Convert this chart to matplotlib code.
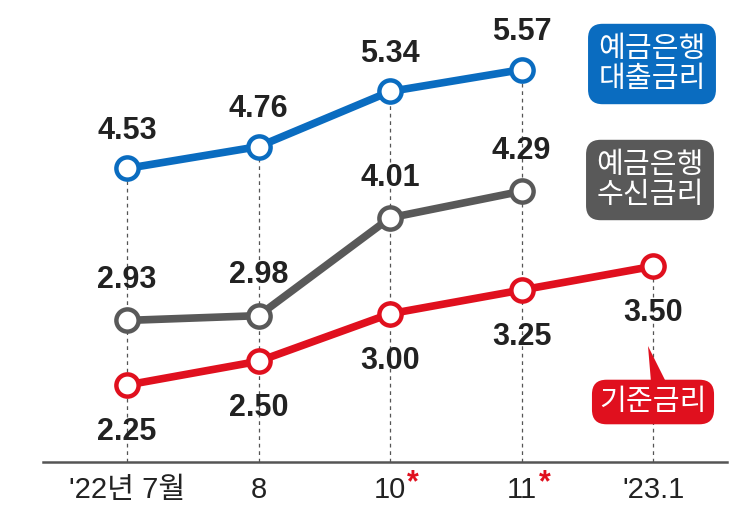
import matplotlib
matplotlib.use('Agg')
import matplotlib.pyplot as plt
from matplotlib.patches import Polygon

plt.rcParams['font.family'] = ['Liberation Sans', 'Noto Sans CJK KR', 'DejaVu Sans']

# ---------- data ----------
months = ["'22년 7월", "8", "10", "11", "'23.1"]
loan_rate = [4.53, 4.76, 5.34, 5.57]        # 예금은행 대출금리
deposit_rate = [2.93, 2.98, 4.01, 4.29]     # 예금은행 수신금리
base_rate = [2.25, 2.50, 3.00, 3.25, 3.50]  # 기준금리
star_months = ["10", "11"]

blue = '#0a6cc0'
gray = '#595959'
red = '#e0101e'

fig = plt.figure(figsize=(7.43, 5.24), dpi=100)
ax = fig.add_axes([0, 0, 1, 1])
ax.set_xlim(-0.966, 4.684)
ax.set_ylim(0.787, 6.303)
ax.axis('off')

x_all = list(range(len(months)))

# dashed guide lines from top point down to axis
tops = []
for i in x_all:
    vals = [base_rate[i]]
    if i < len(loan_rate):
        vals.append(loan_rate[i])
    tops.append(max(vals))
ax.vlines(x_all, 1.44, tops, colors='#555555', linestyles=(0, (3, 3)), linewidth=0.9, zorder=1)

# axis line
ax.plot([-0.64, 4.56], [1.44, 1.44], color='#555555', lw=1.8, zorder=1)

def draw(vals, color, off):
    xs = x_all[:len(vals)]
    ax.plot(xs, vals, color=color, lw=5.5, marker='o', markersize=16,
            markerfacecolor='white', markeredgecolor=color, markeredgewidth=3.2,
            solid_capstyle='round', zorder=3)
    for x, v in zip(xs, vals):
        ax.annotate('%.2f' % v, (x, v), xytext=(0, off), textcoords='offset points',
                    ha='center', va='center', fontsize=22, color='#222222',
                    fontweight='bold', zorder=4)

draw(loan_rate, blue, 27)
draw(deposit_rate, gray, 29)
draw(base_rate, red, -34)

# x labels
lab_y = 1.44 - 0.30
for i, m in enumerate(months):
    ax.text(i, lab_y, m, ha='center', va='center', fontsize=21, color='#222222')
    if m in star_months:
        ax.annotate('*', (i, lab_y), xytext=(12.5, 5), textcoords='offset points',
                    ha='left', va='center', fontsize=22, color=red, fontweight='bold')

# legend boxes
box_font = ['Noto Sans CJK KR', 'DejaVu Sans']
fig.text(652 / 743, 1 - 64 / 524, '예금은행\n대출금리', ha='center', va='center', fontsize=21,
         color='white', family=box_font, linespacing=1.0,
         bbox=dict(boxstyle='round,pad=0.35,rounding_size=0.5', fc=blue, ec='none'))
fig.text(650 / 743, 1 - 180 / 524, '예금은행\n수신금리', ha='center', va='center', fontsize=21,
         color='white', family=box_font, linespacing=1.0,
         bbox=dict(boxstyle='round,pad=0.35,rounding_size=0.5', fc=gray, ec='none'))
fig.text(653 / 743, 1 - 402 / 524, '기준금리', ha='center', va='center', fontsize=21,
         color='white', family=box_font,
         bbox=dict(boxstyle='round,pad=0.25,rounding_size=0.5', fc=red, ec='none'))
tri = Polygon([[648 / 743, 1 - 346 / 524], [651 / 743, 1 - 382 / 524], [666 / 743, 1 - 382 / 524]],
              closed=True, fc=red, ec='none', transform=fig.transFigure, zorder=5)
fig.patches.append(tri)

fig.savefig('out.png', dpi=100, facecolor='white')
